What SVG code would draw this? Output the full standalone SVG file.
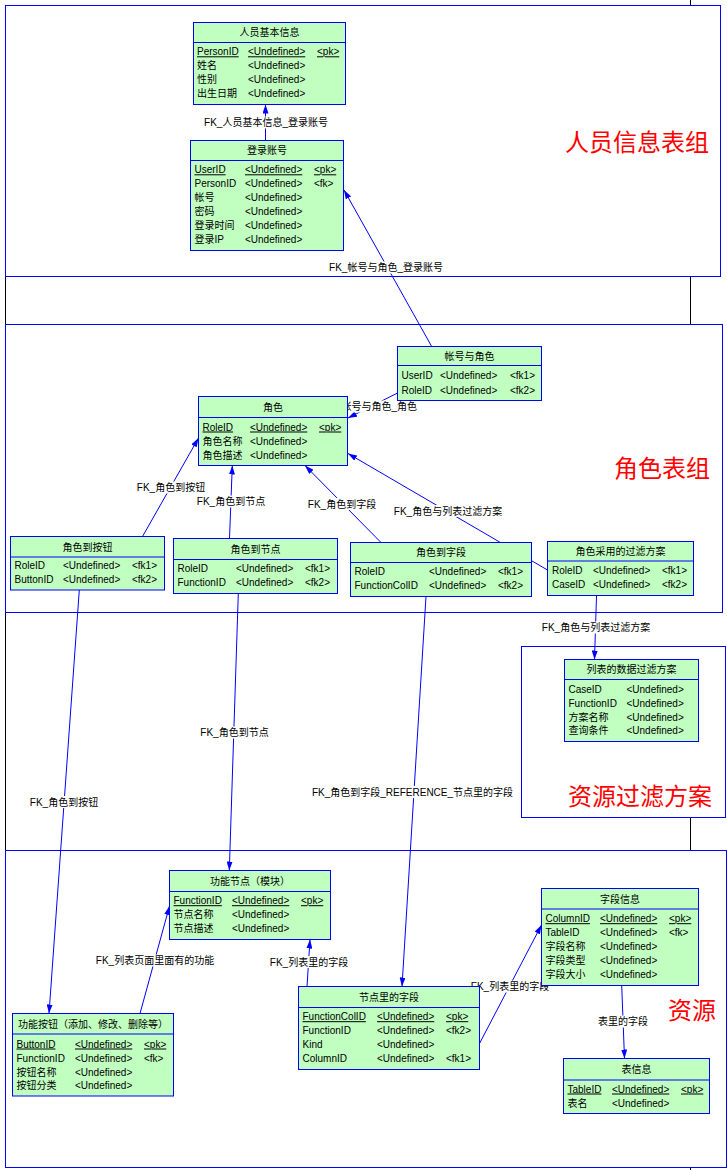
<svg xmlns="http://www.w3.org/2000/svg" width="727" height="1170" viewBox="0 0 727 1170">
<defs>
<marker id="arr" markerWidth="9" markerHeight="6" refX="9" refY="3" orient="auto" markerUnits="userSpaceOnUse"><path d="M0,0 L9,3 L0,6 z" fill="#0000FF"/></marker>
<style>
.grp{fill:none;stroke:#0000FF;stroke-width:1}
.blk{stroke:#000;stroke-width:1}
.tbl rect{fill:#C0FFC0;stroke:#0000FF;stroke-width:1}
.tbl line{stroke:#0000FF;stroke-width:1}
text{font-family:"Liberation Sans","Noto Sans CJK SC",sans-serif;font-size:10px;fill:#000}
.t{text-anchor:middle}
.u{text-decoration:underline}
.lk line{stroke:#0000FF;stroke-width:1;marker-end:url(#arr)}
.lb rect{fill:#fff}
.lb text{text-anchor:middle}
.big{font-family:"Noto Sans CJK SC",sans-serif;font-size:24px;fill:#FF0000}
</style>
</defs>
<rect width="727" height="1170" fill="#fff"/>
<g id="groups">
<rect class="grp" x="5.5" y="5.5" width="715" height="271"/>
<rect class="grp" x="5.5" y="324.5" width="717" height="288"/>
<rect class="grp" x="521.5" y="646.5" width="204" height="171"/>
<rect class="grp" x="5.5" y="850.5" width="721" height="317"/>
<line class="blk" x1="690.5" y1="0" x2="690.5" y2="5"/>
<line class="blk" x1="690.5" y1="277" x2="690.5" y2="324"/>
<line class="blk" x1="690.5" y1="818" x2="690.5" y2="850"/>
<line class="blk" x1="690.5" y1="1168" x2="690.5" y2="1170"/>
<line class="blk" x1="5.5" y1="277" x2="5.5" y2="324"/>
<line class="blk" x1="5.5" y1="613" x2="5.5" y2="850"/>
<text class="big" x="565" y="151">人员信息表组</text>
<text class="big" x="614" y="477">角色表组</text>
<text class="big" x="568" y="805">资源过滤方案</text>
<text class="big" x="668" y="1019">资源</text>
</g>
<g id="connectors">
<g class="lk">
<line x1="265.5" y1="140.5" x2="265.5" y2="104.5"/>
<line x1="431.7" y1="346.5" x2="344" y2="190"/>
<line x1="397.5" y1="393" x2="348" y2="418"/>
<line x1="142.5" y1="536.5" x2="198.5" y2="438"/>
<line x1="229.5" y1="538.5" x2="232.3" y2="465.5"/>
<line x1="381" y1="542.5" x2="305" y2="465.5"/>
<line x1="547.5" y1="570" x2="348" y2="453.5"/>
<line x1="596.5" y1="595.5" x2="594.5" y2="659.5"/>
<line x1="79.3" y1="590" x2="49" y2="1013.5"/>
<line x1="238.3" y1="593.5" x2="229.3" y2="870.5"/>
<line x1="426" y1="596.5" x2="402" y2="986.5"/>
<line x1="140" y1="1013.5" x2="169.5" y2="906"/>
<line x1="307" y1="986.5" x2="310" y2="939.5"/>
<line x1="479.5" y1="1043.5" x2="541.5" y2="925"/>
<line x1="621.7" y1="985.5" x2="624.5" y2="1058.5"/>
</g>
<g class="lb">
<rect x="204" y="116.5" width="124" height="12"/><text x="266" y="126.2">FK_人员基本信息_登录账号</text>
<rect x="329" y="261.5" width="114" height="12"/><text x="386" y="271.2">FK_帐号与角色_登录账号</text>
<rect x="323" y="400.5" width="94" height="12"/><text x="370" y="410.2">FK_帐号与角色_角色</text>
<rect x="142" y="481.5" width="58" height="12"/><text x="171" y="491.2">FK_角色到按钮</text>
<rect x="202" y="495.5" width="58" height="12"/><text x="231" y="505.2">FK_角色到节点</text>
<rect x="313" y="498" width="58" height="12"/><text x="342" y="507.7">FK_角色到字段</text>
<rect x="394" y="505" width="108" height="12"/><text x="448" y="514.7">FK_角色与列表过滤方案</text>
<rect x="542" y="621.5" width="108" height="12"/><text x="596" y="631.2">FK_角色与列表过滤方案</text>
<rect x="35" y="796" width="58" height="12"/><text x="64" y="805.7">FK_角色到按钮</text>
<rect x="205.5" y="726.5" width="58" height="12"/><text x="234.5" y="736.2">FK_角色到节点</text>
<rect x="317" y="786" width="191" height="12"/><text x="412.5" y="795.7">FK_角色到字段_REFERENCE_节点里的字段</text>
<rect x="96" y="954.5" width="118" height="12"/><text x="155" y="964.2">FK_列表页面里面有的功能</text>
<rect x="275" y="956" width="68" height="12"/><text x="309" y="965.7">FK_列表里的字段</text>
<rect x="476" y="980.5" width="68" height="12"/><text x="510" y="990.2">FK_列表里的字段</text>
<rect x="598" y="1015.5" width="50" height="12"/><text x="623" y="1025.2">表里的字段</text>
</g>
</g>
<g id="t_renyuan" class="tbl">
<rect x="193.5" y="22.5" width="152" height="82"/><line x1="193.5" y1="42.5" x2="345.5" y2="42.5"/>
<text class="t" x="269.5" y="36.3">人员基本信息</text>
<text class="u" x="197" y="55.3">PersonID</text><text class="u" x="248" y="55.3">&lt;Undefined&gt;</text><text class="u" x="317" y="55.3">&lt;pk&gt;</text>
<text x="197" y="69.3">姓名</text><text x="248" y="69.3">&lt;Undefined&gt;</text>
<text x="197" y="83.3">性别</text><text x="248" y="83.3">&lt;Undefined&gt;</text>
<text x="197" y="97.3">出生日期</text><text x="248" y="97.3">&lt;Undefined&gt;</text>
</g>
<g id="t_denglu" class="tbl">
<rect x="190.5" y="140.5" width="153" height="110"/><line x1="190.5" y1="160.5" x2="343.5" y2="160.5"/>
<text class="t" x="267" y="154.3">登录账号</text>
<text class="u" x="194.5" y="173.3">UserID</text><text class="u" x="245" y="173.3">&lt;Undefined&gt;</text><text class="u" x="314" y="173.3">&lt;pk&gt;</text>
<text x="194.5" y="187.3">PersonID</text><text x="245" y="187.3">&lt;Undefined&gt;</text><text x="314" y="187.3">&lt;fk&gt;</text>
<text x="194.5" y="201.3">帐号</text><text x="245" y="201.3">&lt;Undefined&gt;</text>
<text x="194.5" y="215.3">密码</text><text x="245" y="215.3">&lt;Undefined&gt;</text>
<text x="194.5" y="229.3">登录时间</text><text x="245" y="229.3">&lt;Undefined&gt;</text>
<text x="194.5" y="243.3">登录IP</text><text x="245" y="243.3">&lt;Undefined&gt;</text>
</g>
<g id="t_zhanghaojuese" class="tbl">
<rect x="397.5" y="346.5" width="144" height="54"/><line x1="397.5" y1="365.5" x2="541.5" y2="365.5"/>
<text class="t" x="469.5" y="359.8">帐号与角色</text>
<text x="401.5" y="379.3">UserID</text><text x="440" y="379.3">&lt;Undefined&gt;</text><text x="510" y="379.3">&lt;fk1&gt;</text>
<text x="401.5" y="393.5">RoleID</text><text x="440" y="393.5">&lt;Undefined&gt;</text><text x="510" y="393.5">&lt;fk2&gt;</text>
</g>
<g id="t_juese" class="tbl">
<rect x="198.5" y="396.5" width="149" height="69"/><line x1="198.5" y1="417.5" x2="347.5" y2="417.5"/>
<text class="t" x="273" y="410.8">角色</text>
<text class="u" x="202.5" y="430.5">RoleID</text><text class="u" x="250" y="430.5">&lt;Undefined&gt;</text><text class="u" x="319" y="430.5">&lt;pk&gt;</text>
<text x="202.5" y="444.5">角色名称</text><text x="250" y="444.5">&lt;Undefined&gt;</text>
<text x="202.5" y="458.5">角色描述</text><text x="250" y="458.5">&lt;Undefined&gt;</text>
</g>
<g id="t_juesedaoanniu" class="tbl">
<rect x="10.5" y="536.5" width="154" height="53.5"/><line x1="10.5" y1="557" x2="164.5" y2="557"/>
<text class="t" x="87.5" y="550.5">角色到按钮</text>
<text x="14.5" y="569.3">RoleID</text><text x="63" y="569.3">&lt;Undefined&gt;</text><text x="132" y="569.3">&lt;fk1&gt;</text>
<text x="14.5" y="583">ButtonID</text><text x="63" y="583">&lt;Undefined&gt;</text><text x="132" y="583">&lt;fk2&gt;</text>
</g>
<g id="t_juesedaojiedian" class="tbl">
<rect x="173.5" y="538.5" width="164" height="55"/><line x1="173.5" y1="559.5" x2="337.5" y2="559.5"/>
<text class="t" x="255.5" y="552.8">角色到节点</text>
<text x="177.5" y="572.3">RoleID</text><text x="236" y="572.3">&lt;Undefined&gt;</text><text x="305" y="572.3">&lt;fk1&gt;</text>
<text x="177.5" y="586.3">FunctionID</text><text x="236" y="586.3">&lt;Undefined&gt;</text><text x="305" y="586.3">&lt;fk2&gt;</text>
</g>
<g id="t_juesedaoziduan" class="tbl">
<rect x="350.5" y="542.5" width="181" height="54"/><line x1="350.5" y1="562.5" x2="531.5" y2="562.5"/>
<text class="t" x="441" y="556.3">角色到字段</text>
<text x="354.5" y="574.7">RoleID</text><text x="429" y="574.7">&lt;Undefined&gt;</text><text x="498" y="574.7">&lt;fk1&gt;</text>
<text x="354.5" y="589.2">FunctionColID</text><text x="429" y="589.2">&lt;Undefined&gt;</text><text x="498" y="589.2">&lt;fk2&gt;</text>
</g>
<g id="t_jueseguolv" class="tbl">
<rect x="547.5" y="541.5" width="146" height="54"/><line x1="547.5" y1="561" x2="693.5" y2="561"/>
<text class="t" x="620.5" y="555">角色采用的过滤方案</text>
<text x="552" y="574">RoleID</text><text x="593" y="574">&lt;Undefined&gt;</text><text x="662" y="574">&lt;fk1&gt;</text>
<text x="552" y="588">CaseID</text><text x="593" y="588">&lt;Undefined&gt;</text><text x="662" y="588">&lt;fk2&gt;</text>
</g>
<g id="t_guolvfangan" class="tbl">
<rect x="564.5" y="659.5" width="134" height="82"/><line x1="564.5" y1="679.5" x2="698.5" y2="679.5"/>
<text class="t" x="631.5" y="673.3">列表的数据过滤方案</text>
<text x="568.5" y="692.7">CaseID</text><text x="626.5" y="692.7">&lt;Undefined&gt;</text>
<text x="568.5" y="706.7">FunctionID</text><text x="626.5" y="706.7">&lt;Undefined&gt;</text>
<text x="568.5" y="720.7">方案名称</text><text x="626.5" y="720.7">&lt;Undefined&gt;</text>
<text x="568.5" y="734.2">查询条件</text><text x="626.5" y="734.2">&lt;Undefined&gt;</text>
</g>
<g id="t_gongnengjiedian" class="tbl">
<rect x="169.5" y="870.5" width="161" height="69"/><line x1="169.5" y1="891.5" x2="330.5" y2="891.5"/>
<text class="t" x="250" y="884.8">功能节点（模块）</text>
<text class="u" x="173.5" y="904.2">FunctionID</text><text class="u" x="232" y="904.2">&lt;Undefined&gt;</text><text class="u" x="301" y="904.2">&lt;pk&gt;</text>
<text x="173.5" y="918.2">节点名称</text><text x="232" y="918.2">&lt;Undefined&gt;</text>
<text x="173.5" y="932.2">节点描述</text><text x="232" y="932.2">&lt;Undefined&gt;</text>
</g>
<g id="t_gongnenganniu" class="tbl">
<rect x="12.5" y="1013.5" width="161" height="82.5"/><line x1="12.5" y1="1034" x2="173.5" y2="1034"/>
<text class="t" x="93" y="1027.5">功能按钮（添加、修改、删除等）</text>
<text class="u" x="16.5" y="1047.5">ButtonID</text><text class="u" x="75" y="1047.5">&lt;Undefined&gt;</text><text class="u" x="144" y="1047.5">&lt;pk&gt;</text>
<text x="16.5" y="1061.5">FunctionID</text><text x="75" y="1061.5">&lt;Undefined&gt;</text><text x="144" y="1061.5">&lt;fk&gt;</text>
<text x="16.5" y="1075.5">按钮名称</text><text x="75" y="1075.5">&lt;Undefined&gt;</text>
<text x="16.5" y="1089.3">按钮分类</text><text x="75" y="1089.3">&lt;Undefined&gt;</text>
</g>
<g id="t_jiedianziduan" class="tbl">
<rect x="298.5" y="986.5" width="181" height="83"/><line x1="298.5" y1="1007.5" x2="479.5" y2="1007.5"/>
<text class="t" x="389" y="1000.8">节点里的字段</text>
<text class="u" x="302.5" y="1020.2">FunctionColID</text><text class="u" x="377" y="1020.2">&lt;Undefined&gt;</text><text class="u" x="446" y="1020.2">&lt;pk&gt;</text>
<text x="302.5" y="1034.2">FunctionID</text><text x="377" y="1034.2">&lt;Undefined&gt;</text><text x="446" y="1034.2">&lt;fk2&gt;</text>
<text x="302.5" y="1048.2">Kind</text><text x="377" y="1048.2">&lt;Undefined&gt;</text>
<text x="302.5" y="1062.2">ColumnID</text><text x="377" y="1062.2">&lt;Undefined&gt;</text><text x="446" y="1062.2">&lt;fk1&gt;</text>
</g>
<g id="t_ziduanxinxi" class="tbl">
<rect x="541.5" y="888.5" width="157" height="97"/><line x1="541.5" y1="909" x2="698.5" y2="909"/>
<text class="t" x="620" y="902.5">字段信息</text>
<text class="u" x="545.5" y="922.2">ColumnID</text><text class="u" x="600" y="922.2">&lt;Undefined&gt;</text><text class="u" x="669" y="922.2">&lt;pk&gt;</text>
<text x="545.5" y="936.2">TableID</text><text x="600" y="936.2">&lt;Undefined&gt;</text><text x="669" y="936.2">&lt;fk&gt;</text>
<text x="545.5" y="950.2">字段名称</text><text x="600" y="950.2">&lt;Undefined&gt;</text>
<text x="545.5" y="964.2">字段类型</text><text x="600" y="964.2">&lt;Undefined&gt;</text>
<text x="545.5" y="978.2">字段大小</text><text x="600" y="978.2">&lt;Undefined&gt;</text>
</g>
<g id="t_biaoxinxi" class="tbl">
<rect x="563.5" y="1058.5" width="146" height="55"/><line x1="563.5" y1="1080" x2="709.5" y2="1080"/>
<text class="t" x="636.5" y="1073">表信息</text>
<text class="u" x="567.5" y="1092.5">TableID</text><text class="u" x="612" y="1092.5">&lt;Undefined&gt;</text><text class="u" x="681" y="1092.5">&lt;pk&gt;</text>
<text x="567.5" y="1106.5">表名</text><text x="612" y="1106.5">&lt;Undefined&gt;</text>
</g>
</svg>
